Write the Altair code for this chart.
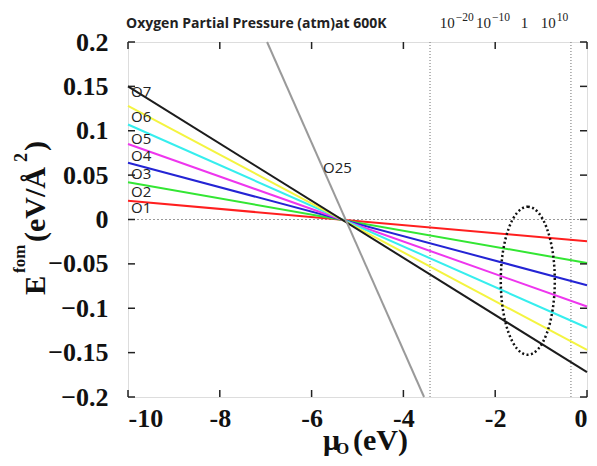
import altair as alt
import pandas as pd

# ---------------- data ----------------
series = ["O1", "O2", "O3", "O4", "O5", "O6", "O7"]
x_ends = [-10, 0]
y_at_left = [0.021, 0.042, 0.064, 0.085, 0.107, 0.128, 0.150]
y_at_right = [-0.0245, -0.049, -0.074, -0.098, -0.122, -0.147, -0.172]
series_colors = ["#ff1f1f", "#33e633", "#2424d4", "#ee36ee", "#36eeee", "#f4f440", "#1c1c1c"]
label_y = [0.013, 0.031, 0.051, 0.072, 0.091, 0.116, 0.144]

o25_x = [-6.97, -3.55]
o25_y = [0.2, -0.2]
o25_label = ("O25", -5.75, 0.058)

vline_x = [-3.42, -0.35]
ellipse_center = (-1.29, -0.069)

pressure_base = ["10", "10", "1", "10"]
pressure_exp = ["\u221220", "\u221210", "", "10"]
pressure_x = [-2.88, -2.09, -1.28, -0.68]

x_ticks = [-10, -8, -6, -4, -2, 0]
y_ticks = [-0.2, -0.15, -0.1, -0.05, 0, 0.05, 0.1, 0.15, 0.2]

W, H = 459, 355
SERIF = "Liberation Serif"
SANS = "Open Sans"

# ---------------- tables ----------------
rows = []
for s, a, b in zip(series, y_at_left, y_at_right):
    rows.append({"s": s, "x": x_ends[0], "y": a})
    rows.append({"s": s, "x": x_ends[1], "y": b})
for xx, yy in zip(o25_x, o25_y):
    rows.append({"s": "O25", "x": xx, "y": yy})
lines_df = pd.DataFrame(rows)

labels_df = pd.DataFrame({"s": series, "x": [x_ends[0]] * len(series), "y": label_y})
o25_df = pd.DataFrame({"s": [o25_label[0]], "x": [o25_label[1]], "y": [o25_label[2]]})
vl_df = pd.DataFrame({"x": vline_x})
zero_df = pd.DataFrame({"y": [0]})
ell_df = pd.DataFrame({"x": [ellipse_center[0]], "y": [ellipse_center[1]]})
press_df = pd.DataFrame({"base": pressure_base, "exp": pressure_exp, "x": pressure_x})
xt_df = pd.DataFrame({"v": x_ticks})
yt_df = pd.DataFrame({"v": y_ticks})

xscale = alt.Scale(domain=[-10, 0], nice=False, zero=False)
yscale = alt.Scale(domain=[-0.2, 0.2], nice=False, zero=False)

xaxis = alt.Axis(
    values=x_ticks, ticks=False, domain=False, grid=False,
    labelFont=SERIF, labelFontWeight="bold", labelFontSize=26, labelColor="#111",
    labelPadding=8,
    labelExpr="datum.value < 0 ? '-' + format(-datum.value, 'd') : '0'",
)
yaxis = alt.Axis(
    values=y_ticks, ticks=False, domain=False, grid=False,
    labelFont=SERIF, labelFontWeight="bold", labelFontSize=26, labelColor="#111",
    labelPadding=20,
    labelExpr="datum.value < 0 ? '\u2212' + format(-datum.value, '.2~f') : format(datum.value, '.2~f')",
)

base_x = alt.X("x:Q", scale=xscale, axis=xaxis, title=None)
base_y = alt.Y("y:Q", scale=yscale, axis=yaxis, title=None)

color_scale = alt.Scale(domain=series + ["O25"], range=series_colors + ["#9a9a9a"])

zero_line = alt.Chart(zero_df).mark_rule(color="#999", strokeDash=[2, 2], strokeWidth=1.2).encode(
    y=alt.Y("y:Q", scale=yscale, axis=yaxis, title=None)
)
vlines = alt.Chart(vl_df).mark_rule(color="#888", strokeDash=[1, 2], strokeWidth=1.2).encode(
    x=alt.X("x:Q", scale=xscale, axis=xaxis, title=None)
)

lines = alt.Chart(lines_df).mark_line(strokeWidth=2).encode(
    x=base_x, y=base_y,
    color=alt.Color("s:N", scale=color_scale, legend=None),
    detail="s:N",
)

labels = alt.Chart(labels_df).mark_text(
    font=SANS, fontSize=15, align="left", baseline="middle", dx=3, color="#222"
).encode(x=base_x, y=base_y, text="s:N")

o25_text = alt.Chart(o25_df).mark_text(
    font=SANS, fontSize=15, align="left", baseline="middle", color="#222"
).encode(x=base_x, y=base_y, text="s:N")

ellipse = alt.Chart(ell_df).mark_point(
    shape="M0,-1 A0.365,1 0 1,1 0,1 A0.365,1 0 1,1 0,-1 Z",
    size=148 * 148, filled=False, color="#111", strokeWidth=2.5, strokeDash=[2, 2.5], opacity=1,
).encode(x=base_x, y=base_y)

# inward mirror ticks
tick_style = dict(color="#222", strokeWidth=1.5)
yt_left = alt.Chart(yt_df).mark_rule(**tick_style).encode(
    y=alt.Y("v:Q", scale=yscale, axis=yaxis, title=None), x=alt.value(0), x2=alt.value(7))
yt_right = alt.Chart(yt_df).mark_rule(**tick_style).encode(
    y=alt.Y("v:Q", scale=yscale, axis=yaxis, title=None), x=alt.value(W - 7), x2=alt.value(W))
xt_bottom = alt.Chart(xt_df).mark_rule(**tick_style).encode(
    x=alt.X("v:Q", scale=xscale, axis=xaxis, title=None), y=alt.value(H - 7), y2=alt.value(H))
xt_top = alt.Chart(xt_df).mark_rule(**tick_style).encode(
    x=alt.X("v:Q", scale=xscale, axis=xaxis, title=None), y=alt.value(0), y2=alt.value(7))

# top pressure labels
press_base = alt.Chart(press_df).mark_text(
    font=SERIF, fontSize=15, align="right", baseline="alphabetic", color="#222"
).encode(x=alt.X("x:Q", scale=xscale, axis=xaxis, title=None), y=alt.value(-14), text="base:N")
press_exp = alt.Chart(press_df).mark_text(
    font=SERIF, fontSize=11.5, align="left", baseline="alphabetic", dx=1, color="#222"
).encode(x=alt.X("x:Q", scale=xscale, axis=xaxis, title=None), y=alt.value(-21), text="exp:N")

header = alt.Chart(zero_df).mark_text(
    text="Oxygen Partial Pressure (atm)at 600K", font=SANS, fontSize=14, fontWeight="bold",
    align="left", baseline="alphabetic", color="#222",
).encode(x=alt.value(-2), y=alt.value(-14))

# axis titles built from text pieces
xt_mu = alt.Chart(zero_df).mark_text(
    text="\u03bc", font=SERIF, fontSize=30, fontWeight="bold", align="left", baseline="alphabetic", color="#111"
).encode(x=alt.value(195), y=alt.value(408))
xt_o = alt.Chart(zero_df).mark_text(
    text="O", font=SERIF, fontSize=17, fontWeight="bold", align="left", baseline="alphabetic", color="#111"
).encode(x=alt.value(208), y=alt.value(412))
xt_ev = alt.Chart(zero_df).mark_text(
    text="(eV)", font=SERIF, fontSize=30, fontWeight="bold", align="left", baseline="alphabetic", color="#111"
).encode(x=alt.value(225), y=alt.value(408))

yt_e = alt.Chart(zero_df).mark_text(
    text="E", font=SERIF, fontSize=29, fontWeight="bold", angle=270, align="left", baseline="alphabetic", color="#111"
).encode(x=alt.value(-83), y=alt.value(253))
yt_fom = alt.Chart(zero_df).mark_text(
    text="fom", font=SERIF, fontSize=17, fontWeight="bold", angle=270, align="left", baseline="alphabetic", color="#111"
).encode(x=alt.value(-103), y=alt.value(231))
yt_unit = alt.Chart(zero_df).mark_text(
    text="(eV/\u00c5", font=SERIF, fontSize=30, fontWeight="bold", angle=270, align="left", baseline="alphabetic", color="#111"
).encode(x=alt.value(-83), y=alt.value(200))
yt_sq = alt.Chart(zero_df).mark_text(
    text="2", font=SERIF, fontSize=18, fontWeight="bold", angle=270, align="left", baseline="alphabetic", color="#111"
).encode(x=alt.value(-101), y=alt.value(120))
yt_close = alt.Chart(zero_df).mark_text(
    text=")", font=SERIF, fontSize=30, fontWeight="bold", angle=270, align="left", baseline="alphabetic", color="#111"
).encode(x=alt.value(-83), y=alt.value(109))

chart = alt.layer(
    zero_line, vlines, lines, labels, o25_text, ellipse,
    yt_left, yt_right, xt_bottom, xt_top,
    press_base, press_exp, header,
    xt_mu, xt_o, xt_ev, yt_e, yt_fom, yt_unit, yt_sq, yt_close,
).properties(
    width=W, height=H,
    autosize=alt.AutoSizeParams(type="none"),
    padding={"left": 120, "top": 34, "right": 2, "bottom": 61},
).configure_view(
    stroke="#111", strokeWidth=2
).configure(background="white")

chart.save("out.html", embed_options={"renderer": "svg", "actions": False})
